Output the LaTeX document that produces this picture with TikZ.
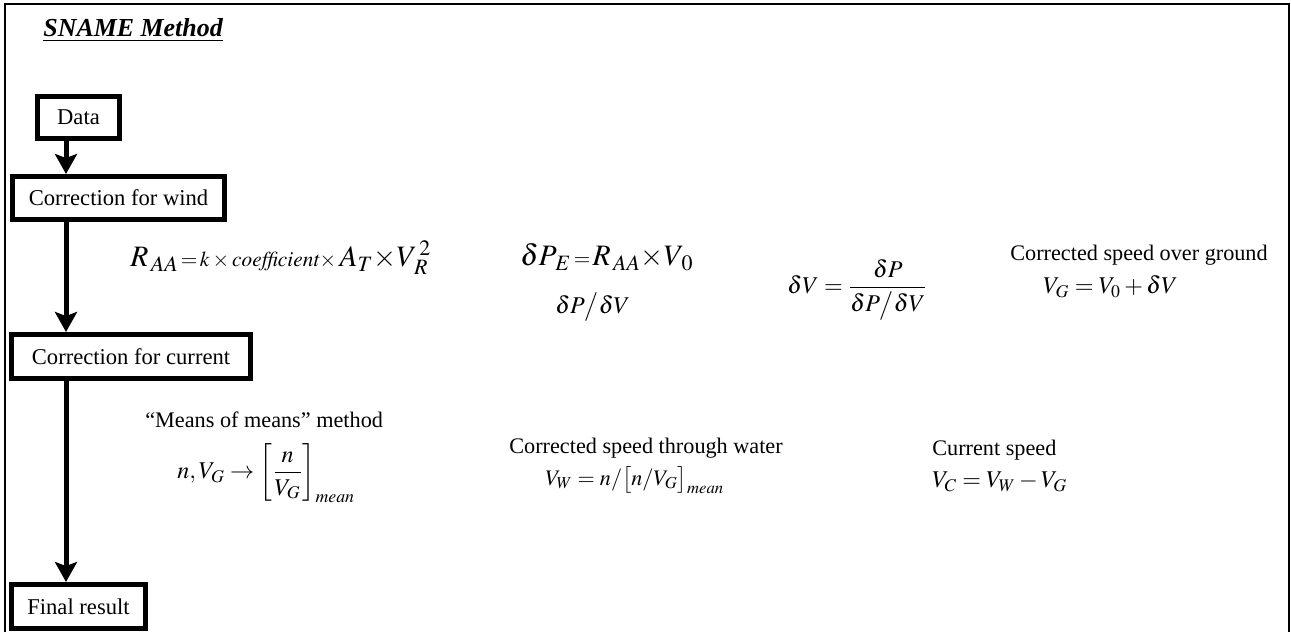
\documentclass[tikz,border=0pt]{standalone}
\usepackage{amsmath}
\usepackage{mathptmx}
\usepackage{fontspec}
\setmainfont{Liberation Serif}
\usepackage{tikz}
\usetikzlibrary{arrows.meta}
\newcommand{\pxu}{0.54pt}
\newcommand{\mn}{\mathit{mean}}

\begin{document}
\begin{tikzpicture}[x=0.54pt, y=-0.54pt,
  box/.style={draw, line width=5*\pxu, inner sep=0pt, font=\fontsize{12.2}{14}\selectfont},
  flow/.style={line width=5*\pxu, -{Stealth[length=10.8pt, width=11.9pt, inset=2.2pt]}},
  txt/.style={anchor=west, inner sep=0pt, font=\fontsize{12}{14}\selectfont},
  eq/.style={txt, font=\fontsize{13}{15}\selectfont}]
\useasboundingbox (0,0) rectangle (1291,632);
% frame, open at the bottom
\draw[line width=2.5*\pxu] (5,640) |- (1289,4) -- (1289,640);
\node[anchor=base west, inner sep=0pt, font=\fontsize{14}{16}\selectfont\bfseries\itshape] (title) at (43,37) {\underline{SNAME Method}};
% the steps
\node[box, minimum width=82*\pxu, minimum height=42*\pxu] (data) at (78.5,117.5) {Data};
\node[box, minimum width=212*\pxu, minimum height=43*\pxu] (wind) at (118.5,198) {Correction for wind};
\node[box, minimum width=239*\pxu, minimum height=44*\pxu] (curr) at (131,356.5) {Correction for current};
\node[box, minimum width=134*\pxu, minimum height=44*\pxu] (final) at (78.5,606.5) {Final result};
\coordinate (spine) at (66,0);
\draw[flow] (data.south -| spine) -- (wind.north -| spine);
\draw[flow] (wind.south -| spine) -- (curr.north -| spine);
\draw[flow] (curr.south -| spine) -- (final.north -| spine);
% wind correction
\node[txt] (raa) at (130,258) {{\fontsize{16}{18}\selectfont$R_{\,AA}$}{\fontsize{11.5}{13}\selectfont$\,{=}\,k\times\mathit{coefficient}\times$}{\fontsize{16}{18}\selectfont$\,A_T{\times}V_{\,R}^{\,2}$}};
\node[txt] (dpe) at (520,257) {{\fontsize{16}{18}\selectfont$\delta P_{\,E}$}{\fontsize{11.5}{13}\selectfont$\,{=}\,$}{\fontsize{16}{18}\selectfont$R_{\,AA}{\times}V_{\,0}$}};
\node[eq] (dpdv) at (555,307) {$\delta P\big/\delta V$};
\node[eq] (dv) at (787,290) {$\delta V=\dfrac{\delta P}{\delta P\big/\delta V}$};
\node[txt] (ogl) at (1010,255) {Corrected speed over ground};
\node[eq] (vg) at (1043,287) {$V_G=V_0+\delta V$};
% current correction
\node[txt] (mml) at (145,420) {“Means of means” method};
\node[eq] (mm) at (177,473) {$n,V_G\rightarrow\left[\dfrac{n}{V_G}\right]_{\mn}$};
\node[txt] (twl) at (509,448) {Corrected speed through water};
\node[txt] (vw) at (545,480) {$V_W=n/\bigl[n/V_G\bigr]_{\mn}$};
\node[txt] (csl) at (932,450) {Current speed};
\node[eq] (vc) at (932,482) {$V_C=V_W-V_G$};
\end{tikzpicture}
\end{document}
